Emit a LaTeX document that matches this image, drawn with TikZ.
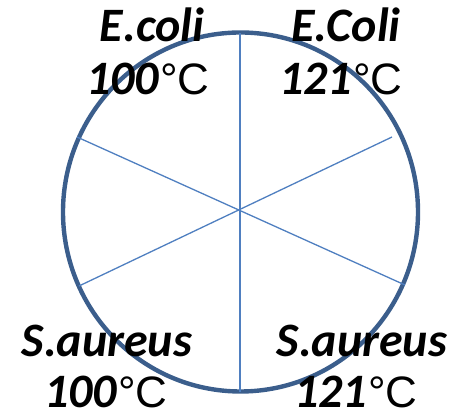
\documentclass[tikz,border=0pt]{standalone}
\usepackage{fontspec}
\setmainfont{Carlito}
\newfontfamily\degfont{Liberation Sans}
\tikzset{
  rim/.style={draw=rimblue,line width=4.4pt},
  spoke/.style={draw=spokeblue,line width=1.3pt},
  lbl/.style={font=\fontsize{48}{53}\selectfont\bfseries\itshape,align=center,inner sep=0pt,anchor=base}
}
\definecolor{rimblue}{HTML}{3B5E8C}
\definecolor{spokeblue}{HTML}{4F7FC0}
\newcommand{\degC}{{\degfont\upshape\mdseries\fontsize{44}{53}\selectfont\kern1pt°C}}
\begin{document}
\begin{tikzpicture}[x=1pt,y=1pt]
  \useasboundingbox (0,0) rectangle (463,414);
  % Kreis und Speichen
  \draw[rim] (240.5,202) ellipse (177.5 and 179.5);
  \coordinate (top) at (240,381);
  \coordinate (bot) at (240,22);
  \coordinate (ul) at (77,277);
  \coordinate (lr) at (405,129);
  \coordinate (ur) at (392,277);
  \coordinate (ll) at (79,128);
  \draw[spoke] (top) -- (bot);
  \draw[spoke] (ul) -- (lr);
  \draw[spoke] (ur) -- (ll);
  % Beschriftung
  \node[lbl] (ecoliA) at (152,372) {E.coli};
  \node[lbl] (tempA) at (148,319) {100\degC};
  \node[lbl] (ecoliB) at (346,372) {E.Coli};
  \node[lbl] (tempB) at (341,319) {121\degC};
  \node[lbl] (saurA) at (107,57) {S.aureus};
  \node[lbl] (tempC) at (106,6) {100\degC};
  \node[lbl] (saurB) at (362,57) {S.aureus};
  \node[lbl] (tempD) at (356,6) {121\degC};
\end{tikzpicture}
\end{document}
